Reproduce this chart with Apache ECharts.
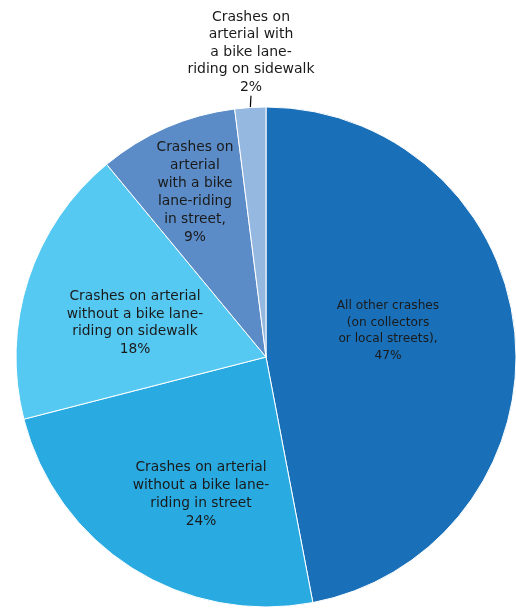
<!DOCTYPE html>
<html>
<head>
<meta charset="utf-8">
<script src="https://cdn.jsdelivr.net/npm/echarts@6/dist/echarts.min.js"></script>
<style>
  html, body { margin: 0; padding: 0; background: #fff; }
  #chart { width: 516px; height: 610px; }
</style>
</head>
<body>
<div id="chart"></div>
<script>
// Bicycle crash locations by street type and riding position
const categories = [
  'All other crashes\n(on collectors\nor local streets),',
  'Crashes on arterial\nwithout a bike lane-\nriding in street',
  'Crashes on arterial\nwithout a bike lane-\nriding on sidewalk',
  'Crashes on\narterial\nwith a bike\nlane-riding\nin street,',
  'Crashes on\narterial with\na bike lane-\nriding on sidewalk'
];
const shares = [47, 24, 18, 9, 2];
const colors = ['#1a70b8', '#29abe2', '#56c9f2', '#5b8cc8', '#95b8e0'];

// label anchor points (px) for each slice
const labelSpots = [[388, 331], [201, 494], [135, 323], [195, 192], [251, 52]];
const labelStyles = [
  { fontSize: 12.2, lineHeight: 16.5 },
  { fontSize: 13.8, lineHeight: 18 },
  { fontSize: 13.8, lineHeight: 17.5 },
  { fontSize: 13.8, lineHeight: 18 },
  { fontSize: 14, lineHeight: 17.5 }
];

const chart = echarts.init(document.getElementById('chart'), null, { renderer: 'canvas' });

const data = categories.map((name, i) => ({
  name: name,
  value: shares[i],
  itemStyle: { color: colors[i] },
  label: Object.assign({
    position: i === 4 ? 'outside' : 'inside',
    formatter: '{b}\n{c}%',
    color: '#1a1a1a',
    align: 'center',
    verticalAlign: 'middle',
    fontFamily: 'DejaVu Sans'
  }, labelStyles[i]),
  labelLine: i === 4 ? { show: true, length: 12, length2: 0, lineStyle: { color: '#000', width: 1.2 } } : { show: false }
}));

chart.setOption({
  animation: false,
  series: [{
    type: 'pie',
    center: [266, 357],
    radius: [0, 250],
    startAngle: 90,
    clockwise: true,
    itemStyle: { borderColor: '#ffffff', borderWidth: 1 },
    emphasis: { disabled: true },
    data: data,
    labelLayout: function (params) {
      const p = labelSpots[params.dataIndex];
      return { x: p[0], y: p[1], align: 'center', verticalAlign: 'middle' };
    }
  }]
});
</script>
</body>
</html>
